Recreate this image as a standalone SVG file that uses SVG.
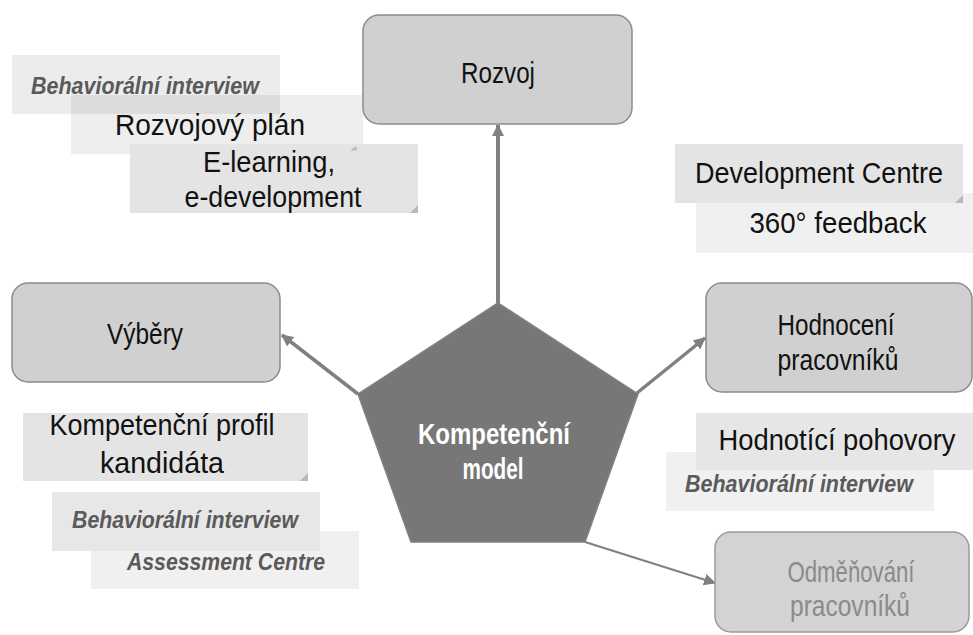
<svg xmlns="http://www.w3.org/2000/svg" width="973" height="635" viewBox="0 0 973 635">
  <style>
    .box { fill: #d0d0d0; stroke: #8c8c8c; stroke-width: 1.5; }
    .box-dim { fill: #d3d3d3; stroke: #9a9a9a; stroke-width: 1.5; }
    .t { font-family: "Liberation Sans", Arial, sans-serif; text-anchor: middle; fill: #111; font-size: 30px; }
    .t-dim { fill: #8a8a8a; }
    .t-center { font-weight: bold; fill: #ffffff; font-size: 30px; }
    .em { font-family: "Liberation Sans", Arial, sans-serif; text-anchor: middle; font-weight: bold; font-style: italic; font-size: 24px; fill: #5a5a5a; }
    .conn { stroke: #808080; fill: none; }
    .fold { fill: #b8b8b8; }
  </style>
  <defs>
    <marker id="arrow" viewBox="0 0 12 12" refX="11" refY="6" markerWidth="12" markerHeight="12" markerUnits="userSpaceOnUse" orient="auto">
      <path d="M0,0 L12,6 L0,12 z" fill="#808080"/>
    </marker>
  </defs>

  <rect width="973" height="635" fill="#ffffff"/>

  <!-- tag labels: development -->
  <g id="tags-rozvoj">
    <rect x="12" y="55" width="268" height="59" fill="#ececec"/>
    <text class="em" x="145" y="94" textLength="228" lengthAdjust="spacingAndGlyphs">Behaviorální interview</text>
    <rect x="71" y="95" width="292" height="59" fill="#000000" fill-opacity="0.065"/>
    <text class="t" x="210" y="135" textLength="190" lengthAdjust="spacingAndGlyphs">Rozvojový plán</text>
    <rect x="130" y="144" width="288" height="69" fill="#e4e4e4"/>
    <path class="fold" d="M350,151 L356,146 L357,150 z"/>
    <path class="fold" d="M410,213 L418,205 L418,213 z"/>
    <text class="t" x="269" y="172" textLength="132" lengthAdjust="spacingAndGlyphs">E-learning,</text>
    <text class="t" x="273" y="207" textLength="177" lengthAdjust="spacingAndGlyphs">e-development</text>
  </g>

  <g id="tags-hodnoceni-top">
    <rect x="696" y="193" width="277" height="60" fill="#f0f0f0"/>
    <text class="t" x="838" y="233" textLength="177" lengthAdjust="spacingAndGlyphs">360° feedback</text>
    <rect x="675" y="144" width="288" height="59" fill="#e4e4e4"/>
    <path class="fold" d="M955,203 L963,195 L963,203 z"/>
    <text class="t" x="819" y="183" textLength="248" lengthAdjust="spacingAndGlyphs">Development Centre</text>
  </g>

  <g id="tags-vybery">
    <rect x="91" y="531" width="268" height="58" fill="#f0f0f0"/>
    <text class="em" x="226" y="570" textLength="198" lengthAdjust="spacingAndGlyphs">Assessment Centre</text>
    <rect x="52" y="492" width="268" height="59" fill="#e7e7e7"/>
    <text class="em" x="185" y="528" textLength="226" lengthAdjust="spacingAndGlyphs">Behaviorální interview</text>
    <rect x="23" y="413" width="285" height="68" fill="#e4e4e4"/>
    <path class="fold" d="M300,481 L308,473 L308,481 z"/>
    <text class="t" x="162" y="435" textLength="225" lengthAdjust="spacingAndGlyphs">Kompetenční profil</text>
    <text class="t" x="162" y="473" textLength="124" lengthAdjust="spacingAndGlyphs">kandidáta</text>
  </g>

  <g id="tags-hodnoceni-bottom">
    <rect x="666" y="452" width="268" height="59" fill="#f0f0f0"/>
    <text class="em" x="799" y="492" textLength="228" lengthAdjust="spacingAndGlyphs">Behaviorální interview</text>
    <rect x="696" y="413" width="277" height="57" fill="#e6e6e6"/>
    <text class="t" x="837" y="450" font-size="28" textLength="237" lengthAdjust="spacingAndGlyphs">Hodnotící pohovory</text>
  </g>

  <!-- connectors -->
  <g id="connectors">
    <line class="conn" x1="498" y1="303" x2="498" y2="125" stroke-width="4" marker-end="url(#arrow)"/>
    <line class="conn" x1="358" y1="394" x2="282" y2="335" stroke-width="3.5" marker-end="url(#arrow)"/>
    <line class="conn" x1="637" y1="393" x2="705" y2="338" stroke-width="3.5" marker-end="url(#arrow)"/>
    <line class="conn" x1="585" y1="542" x2="715" y2="583" stroke-width="2" marker-end="url(#arrow)"/>
  </g>

  <g id="node-rozvoj">
    <rect class="box" x="363" y="15" width="269" height="109" rx="16"/>
    <text class="t" x="498" y="83" textLength="74" lengthAdjust="spacingAndGlyphs">Rozvoj</text>
  </g>

  <g id="node-vybery">
    <rect class="box" x="12" y="283" width="268" height="99" rx="16"/>
    <text class="t" x="145" y="344" textLength="76" lengthAdjust="spacingAndGlyphs">Výběry</text>
  </g>

  <g id="node-hodnoceni">
    <rect class="box" x="706" y="283" width="266" height="109" rx="16"/>
    <text class="t" x="836" y="335" textLength="117" lengthAdjust="spacingAndGlyphs">Hodnocení</text>
    <text class="t" x="838" y="370" textLength="121" lengthAdjust="spacingAndGlyphs">pracovníků</text>
  </g>

  <g id="node-odmenovani">
    <rect class="box-dim" x="715" y="532" width="254" height="100" rx="16"/>
    <text class="t t-dim" x="851" y="582" textLength="127" lengthAdjust="spacingAndGlyphs">Odměňování</text>
    <text class="t t-dim" x="850" y="616" textLength="120" lengthAdjust="spacingAndGlyphs">pracovníků</text>
  </g>

  <g id="node-model">
    <polygon points="498,303 638,394 585,542 411,542 358,394" fill="#777777" stroke="#808080" stroke-width="1.5"/>
    <text class="t t-center" x="494" y="444" textLength="152" lengthAdjust="spacingAndGlyphs">Kompetenční</text>
    <text class="t t-center" x="493" y="479" textLength="61" lengthAdjust="spacingAndGlyphs">model</text>
  </g>
</svg>
